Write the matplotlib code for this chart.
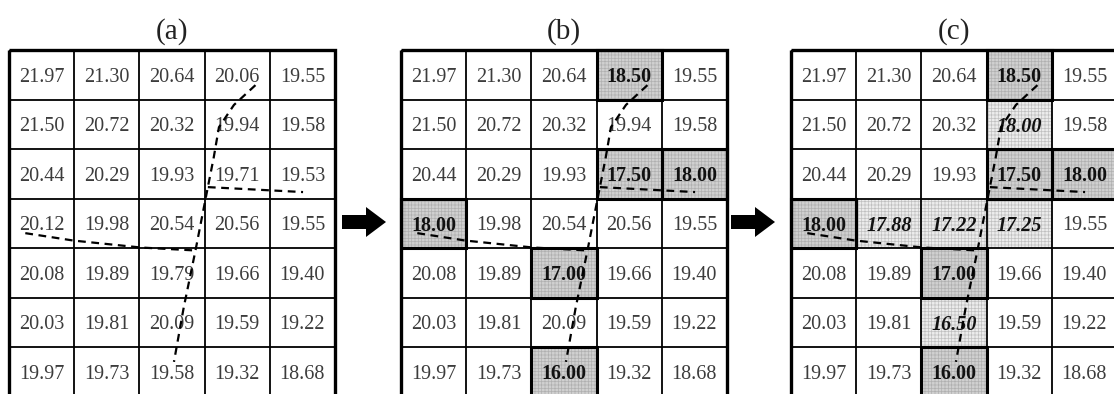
import matplotlib
matplotlib.use("Agg")
import matplotlib.pyplot as plt
from matplotlib.patches import Rectangle, FancyArrow

plt.rcParams['font.family'] = ['Liberation Serif', 'DejaVu Serif']
plt.rcParams['hatch.linewidth'] = 0.5

# 7 x 5 grid of original cell values
grid_values = [
    [21.97, 21.30, 20.64, 20.06, 19.55],
    [21.50, 20.72, 20.32, 19.94, 19.58],
    [20.44, 20.29, 19.93, 19.71, 19.53],
    [20.12, 19.98, 20.54, 20.56, 19.55],
    [20.08, 19.89, 19.79, 19.66, 19.40],
    [20.03, 19.81, 20.09, 19.59, 19.22],
    [19.97, 19.73, 19.58, 19.32, 18.68],
]

# cells set along the fault (row, col, value)
fault_rows = [0, 2, 2, 3, 4, 6]
fault_cols = [3, 3, 4, 0, 2, 2]
fault_vals = [18.50, 17.50, 18.00, 18.00, 17.00, 16.00]

# cells filled in between the fault cells (row, col, value)
interp_rows = [1, 3, 3, 3, 5]
interp_cols = [3, 1, 2, 3, 2]
interp_vals = [18.00, 17.88, 17.22, 17.25, 16.50]

# fault traces in cell units (x = column, y = row from top)
fault_main_x = [3.78, 3.45, 3.22, 3.14, 3.05, 2.98, 2.86, 2.68, 2.53]
fault_main_y = [0.71, 1.11, 1.56, 2.17, 2.77, 3.24, 4.05, 5.20, 6.30]
fault_east_x = [3.05, 4.51]
fault_east_y = [2.77, 2.87]
fault_west_x = [0.25, 0.99, 2.02, 2.86]
fault_west_y = [3.70, 3.85, 3.99, 4.05]

panel_titles = ['(a)', '(b)', '(c)']

W, H = 1114, 394
NROWS, NCOLS = 7, 5
CELL_W, CELL_H = 65.2, 49.5
panel_left = [9, 401, 791]
panel_top = 50

DARK_FILL, DARK_HATCH = '#d0d0d0', '#b0b0b0'
LIGHT_FILL, LIGHT_HATCH = '#ececec', '#c0c0c0'

fig = plt.figure(figsize=(W / 100, H / 100), dpi=100)


def shade(ax, r, c, face, hatch_col):
    ax.add_patch(Rectangle((c, r), 1, 1, facecolor=face, edgecolor=hatch_col,
                           linewidth=0, hatch='+++++', zorder=1))


def outline(ax, r, c):
    ax.add_patch(Rectangle((c, r), 1, 1, fill=False, edgecolor='black',
                           linewidth=2.2, zorder=4, clip_on=False))


def draw_panel(idx):
    left = panel_left[idx]
    width = NCOLS * CELL_W
    height = NROWS * CELL_H
    ax = fig.add_axes([left / W, (H - panel_top - height) / H, width / W, height / H])
    ax.set_xlim(0, NCOLS)
    ax.set_ylim(NROWS, 0)
    ax.axis('off')

    labels = {}
    for r in range(NROWS):
        for c in range(NCOLS):
            labels[(r, c)] = (grid_values[r][c], 'normal', 'normal', '#3c3c3c')

    if idx >= 1:
        for r, c, v in zip(fault_rows, fault_cols, fault_vals):
            labels[(r, c)] = (v, 'bold', 'normal', '#111111')
            shade(ax, r, c, DARK_FILL, DARK_HATCH)
    if idx >= 2:
        for r, c, v in zip(interp_rows, interp_cols, interp_vals):
            labels[(r, c)] = (v, 'bold', 'italic', '#111111')
            shade(ax, r, c, LIGHT_FILL, LIGHT_HATCH)

    # cell grid
    for c in range(1, NCOLS):
        ax.plot([c, c], [0, NROWS], color='black', lw=1.3, zorder=3, clip_on=False)
    for r in range(1, NROWS):
        ax.plot([0, NCOLS], [r, r], color='black', lw=1.3, zorder=3, clip_on=False)
    ax.add_patch(Rectangle((0, 0), NCOLS, NROWS, fill=False, edgecolor='black',
                           linewidth=2.4, zorder=4, clip_on=False))

    if idx >= 1:
        for r, c in zip(fault_rows, fault_cols):
            outline(ax, r, c)

    for (r, c), (v, weight, style, col) in labels.items():
        ax.text(c + 0.5, r + 0.55, f'{v:.2f}', ha='center', va='center',
                fontsize=14.5, fontweight=weight, fontstyle=style, color=col, zorder=5)

    dash = (0, (3.5, 2.5))
    for xs, ys in [(fault_main_x, fault_main_y), (fault_east_x, fault_east_y),
                   (fault_west_x, fault_west_y)]:
        ax.plot(xs, ys, color='black', lw=1.6, linestyle=dash, zorder=6, clip_on=False)

    ax.text(NCOLS / 2, -0.38, panel_titles[idx], ha='center', va='center',
            fontsize=21, color='#222222')


for i in range(3):
    draw_panel(i)

# arrows between panels
over = fig.add_axes([0, 0, 1, 1], zorder=10)
over.set_xlim(0, W)
over.set_ylim(H, 0)
over.axis('off')
for x0 in [342, 731]:
    over.add_patch(FancyArrow(x0, 222, 44, 0, width=14, head_width=30,
                              head_length=20, length_includes_head=True,
                              color='black', lw=0))

fig.savefig('out.png', dpi=100)
